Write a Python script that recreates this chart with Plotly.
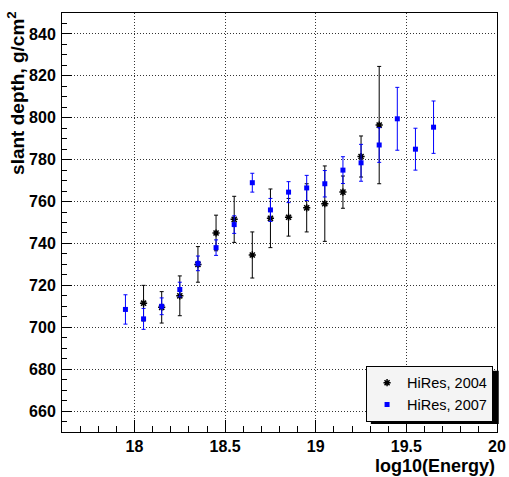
import plotly.graph_objects as go

# HiRes 2004 (black)
x2004 = [18.05, 18.15, 18.25, 18.35, 18.45, 18.55, 18.65, 18.75, 18.85, 18.95, 19.05, 19.15, 19.25, 19.35]
y2004 = [711.5, 709.5, 715, 730, 745, 751.5, 734.5, 752, 752.5, 757, 759, 764.5, 781.5, 796.5]
e2004 = [8.5, 7.5, 9.5, 8.5, 8.5, 11, 11, 14, 9, 11.5, 18, 7.7, 9.8, 28]

# HiRes 2007 (blue)
x2007 = [17.95, 18.05, 18.15, 18.25, 18.35, 18.45, 18.55, 18.65, 18.75, 18.85, 18.95, 19.05, 19.15, 19.25, 19.35, 19.45, 19.55, 19.65]
y2007 = [708.5, 704, 710, 718, 730.5, 738, 749, 769, 756, 764.5, 766.5, 768.5, 775, 778.5, 787, 799.5, 785, 795.5]
e2007 = [7, 5, 4, 3.5, 3.5, 3.7, 4.2, 4.5, 5.5, 5, 6, 6.3, 6.4, 8.8, 8.3, 15, 10, 12.5]

x_ticks = [18, 18.5, 19, 19.5, 20]
x_ticklabels = ["18", "18.5", "19", "19.5", "20"]
y_ticks = [660, 680, 700, 720, 740, 760, 780, 800, 820, 840]

FONT = "Liberation Sans, Arial, Helvetica, sans-serif"

fig = go.Figure()
fig.add_trace(go.Scatter(
    x=x2004, y=y2004, mode="markers", name="HiRes, 2004",
    marker=dict(symbol="asterisk-open", size=6, color="black", line=dict(width=1.5, color="black")),
    error_y=dict(type="data", array=e2004, visible=True, color="black", thickness=1, width=2),
))
fig.add_trace(go.Scatter(
    x=x2007, y=y2007, mode="markers", name="HiRes, 2007",
    marker=dict(symbol="square", size=5, color="#0000ff", line=dict(width=0)),
    error_y=dict(type="data", array=e2007, visible=True, color="#0000ff", thickness=1, width=2),
))

axis_common = dict(
    showline=True, linecolor="black", linewidth=1, mirror=True,
    ticks="inside", tickcolor="black", tickwidth=1,
    showgrid=True, gridcolor="#333333", griddash="1px,2px", gridwidth=1,
    zeroline=False, automargin=False,
    tickfont=dict(family=FONT, size=16, color="black", weight="bold"),
)

fig.update_xaxes(
    range=[17.6, 20], tickvals=x_ticks, ticktext=x_ticklabels, ticklen=12,
    minor=dict(dtick=0.1, tick0=18, ticks="inside", ticklen=6, tickcolor="black", showgrid=False),
    ticklabelstandoff=0,
    **axis_common,
)
fig.update_yaxes(
    range=[650, 850], tickvals=y_ticks, ticklen=10,
    minor=dict(dtick=5, tick0=650, ticks="inside", ticklen=5, tickcolor="black", showgrid=False),
    ticklabelstandoff=2,
    **axis_common,
)

fig.update_layout(
    width=509, height=477,
    margin=dict(l=62, r=12, t=13, b=45, autoexpand=False),
    paper_bgcolor="white", plot_bgcolor="white",
    showlegend=True,
    legend=dict(
        x=0.699, y=0.158, xanchor="left", yanchor="top",
        bgcolor="#f4f4f4", bordercolor="black", borderwidth=1,
        font=dict(family=FONT, size=14.5, color="black"),
        itemwidth=30, tracegroupgap=0,
    ),
    annotations=[
        dict(text="<b>log10(Energy)</b>", xref="paper", yref="paper", x=1.0, y=-0.08,
             xanchor="right", yanchor="middle", showarrow=False,
             font=dict(family=FONT, size=18, color="black")),
        dict(text="<b>slant depth, g/cm<sup>2</sup></b>", xref="paper", yref="paper",
             x=-0.106, y=1.0095, xanchor="center", yanchor="top", textangle=-90,
             showarrow=False, font=dict(family=FONT, size=19, color="black")),
    ],
    shapes=[
        dict(type="rect", xref="paper", yref="paper", x0=0.710, x1=1.004, y0=0.019, y1=0.146,
             fillcolor="black", line=dict(width=0), layer="above"),
    ],
)

fig.write_html("out.html", config={"displayModeBar": False},
               post_script="document.body.style.margin='0px';document.body.style.overflow='hidden';")
